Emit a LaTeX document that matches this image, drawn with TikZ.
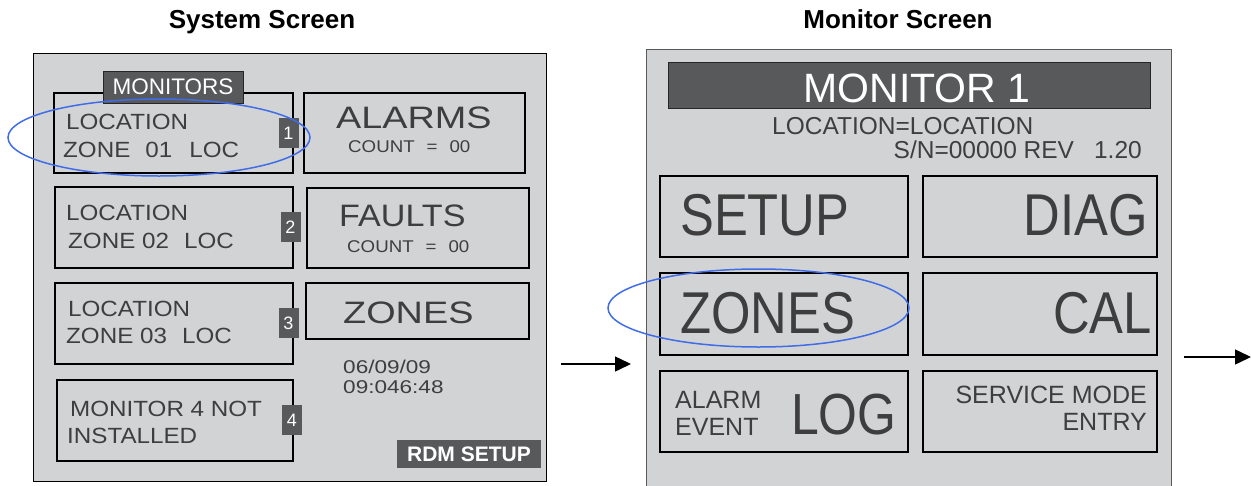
\documentclass[tikz,border=0pt]{standalone}
\usepackage{fontspec}
\setmainfont{Liberation Sans}
\newfontfamily\lcdfont[FakeStretch=1.1]{Liberation Sans}
\newfontfamily\lcdwide[FakeStretch=1.22]{Liberation Sans}
\newfontfamily\panelfont{Liberation Sans}
\newfontfamily\panelnarrow[FakeStretch=0.86]{Liberation Sans}
\usetikzlibrary{positioning,arrows.meta,shapes.geometric}
\definecolor{screenbg}{RGB}{210,211,213}
\definecolor{tabdark}{RGB}{88,89,91}
\definecolor{lcdtext}{RGB}{62,62,62}
\definecolor{ringblue}{RGB}{64,108,232}

\tikzset{
  title/.style={font=\bfseries\fontsize{26}{30}\selectfont, anchor=base, inner sep=0pt},
  screen/.style={fill=screenbg, anchor=north west, inner sep=0pt},
  box/.style={draw=black, line width=2pt, anchor=north west, inner sep=0pt},
  tab/.style={fill=tabdark, draw=black!85, line width=0.8pt, text=white, inner sep=0pt},
  badge/.style={fill=tabdark, text=white, inner sep=0pt, minimum width=20pt, minimum height=30pt,
    font=\panelfont\fontsize{18}{20}\selectfont},
  lcd/.style={text=lcdtext, inner sep=0pt, anchor=base west},
  ring/.style={draw=ringblue, line width=1.5pt, ellipse, inner sep=0pt},
  flow/.style={-{Triangle[length=16pt,width=15pt]}, line width=1.5pt}
}

\begin{document}
\begin{tikzpicture}[x=1pt,y=-1pt]
    \useasboundingbox (0,0) rectangle (1251,485);
    \node[title] (systitle) at (262,28) {System Screen};
    \node[title] (montitle) at (898,28) {Monitor Screen};

    \node[screen, draw=black, line width=1.3pt, minimum width=513pt, minimum height=428pt] (sysscr) at (33,53) {};
    \node[box, minimum width=239pt, minimum height=80pt] (mon1) at (53,92) {};
    \node[box, minimum width=238pt, minimum height=81pt] (mon2) at (54,186) {};
    \node[box, minimum width=238pt, minimum height=81pt] (mon3) at (54,282) {};
    \node[box, minimum width=236pt, minimum height=81pt] (mon4) at (56,379) {};
    \node[box, minimum width=221pt, minimum height=80pt] (alarms) at (303,92) {};
    \node[box, minimum width=222pt, minimum height=80pt] (faults) at (306,187) {};
    \node[box, minimum width=223pt, minimum height=56pt] (zones) at (305,282) {};
    \node[tab, minimum width=140pt, minimum height=32pt, font=\panelfont\fontsize{22.5}{26}\selectfont] (montab) at (173,87) {MONITORS};
    \node[badge] (badge1) at (288.5,133) {1};
    \node[badge] (badge2) at (290.5,227) {2};
    \node[badge] (badge3) at (288.5,323) {3};
    \node[badge] (badge4) at (292,420) {4};

    \node[lcd, font=\lcdfont\fontsize{22}{26}\selectfont] (loc1) at (66,129) {LOCATION};
    \node[lcd, font=\lcdfont\fontsize{22}{26}\selectfont] (zone1) at (63,157) {ZONE\hspace{15pt}01\hspace{17pt}LOC};
    \node[lcd, font=\lcdfont\fontsize{22}{26}\selectfont] (loc2) at (66,220) {LOCATION};
    \node[lcd, font=\lcdfont\fontsize{22}{26}\selectfont] (zone2) at (68,248) {ZONE 02\hspace{15pt}LOC};
    \node[lcd, font=\lcdfont\fontsize{22}{26}\selectfont] (loc3) at (68,316) {LOCATION};
    \node[lcd, font=\lcdfont\fontsize{22}{26}\selectfont] (zone3) at (66,343) {ZONE 03\hspace{15pt}LOC};
    \node[lcd, font=\lcdfont\fontsize{22}{26}\selectfont] (mon4a) at (70,416) {MONITOR 4 NOT};
    \node[lcd, font=\lcdfont\fontsize{22}{26}\selectfont] (mon4b) at (67,443) {INSTALLED};

    \node[lcd, font=\lcdwide\fontsize{31}{34}\selectfont] (alarmstxt) at (336,128) {ALARMS};
    \node[lcd, font=\lcdfont\fontsize{17}{20}\selectfont] (alarmscnt) at (348,152) {COUNT\hspace{12pt}=\hspace{12pt}00};
    \node[lcd, font=\lcdfont\fontsize{31}{34}\selectfont] (faultstxt) at (339,226) {FAULTS};
    \node[lcd, font=\lcdfont\fontsize{17}{20}\selectfont] (faultscnt) at (347,252) {COUNT\hspace{12pt}=\hspace{12pt}00};
    \node[lcd, font=\lcdwide\fontsize{31}{34}\selectfont] (zonestxt) at (343,323) {ZONES};
    \node[lcd, font=\lcdwide\fontsize{18.5}{20}\selectfont] (date) at (343,373) {06/09/09};
    \node[lcd, font=\lcdwide\fontsize{18.5}{20}\selectfont] (time) at (343,393) {09:046:48};
    \node[tab, draw=none, minimum width=144pt, minimum height=28pt, font=\bfseries\fontsize{21}{24}\selectfont] (rdm) at (469,454) {RDM SETUP};
    \node[ring, minimum width=302pt, minimum height=77pt] (ring1) at (159,137.5) {};

    \node[screen, draw=black!65, line width=1.3pt, minimum width=525pt, minimum height=450pt] (monscr) at (646,49) {};
    \node[tab, anchor=north west, minimum width=482pt, minimum height=46pt] (hdr) at (668,62) {};
    \node[text=white, anchor=base, inner sep=0pt, font=\panelfont\fontsize{41}{44}\selectfont] (hdrtxt) at (917,102) {MONITOR 1};
    \node[lcd, font=\panelfont\fontsize{24.5}{28}\selectfont] (locline) at (772,134) {LOCATION=LOCATION};
    \node[lcd, anchor=base east, font=\panelfont\fontsize{24.5}{28}\selectfont] (snline) at (1142,158) {S/N=00000 REV\hspace{20pt}1.20};

    \node[box, line width=1.8pt, minimum width=248pt, minimum height=81pt] (setup) at (659,175) {};
    \node[box, line width=1.8pt, minimum width=234pt, minimum height=81pt] (diag) at (922,175) {};
    \node[box, line width=1.8pt, minimum width=248pt, minimum height=82pt] (zonesbtn) at (659,272) {};
    \node[box, line width=1.8pt, minimum width=234pt, minimum height=82pt] (cal) at (922,272) {};
    \node[box, line width=1.8pt, minimum width=248pt, minimum height=81pt] (log) at (659,370) {};
    \node[box, line width=1.8pt, minimum width=234pt, minimum height=81pt] (service) at (922,370) {};

    \node[lcd, font=\panelnarrow\fontsize{59}{62}\selectfont] (setuptxt) at (680,235) {SETUP};
    \node[lcd, anchor=base east, font=\panelnarrow\fontsize{59}{62}\selectfont] (diagtxt) at (1148,235) {DIAG};
    \node[lcd, font=\panelnarrow\fontsize{59}{62}\selectfont] (zonesbtntxt) at (680,333) {ZONES};
    \node[lcd, anchor=base east, font=\panelnarrow\fontsize{59}{62}\selectfont] (caltxt) at (1152,333) {CAL};
    \node[lcd, font=\panelfont\fontsize{25}{28}\selectfont] (alarmlbl) at (675,408) {ALARM};
    \node[lcd, font=\panelfont\fontsize{25}{28}\selectfont] (eventlbl) at (675,435) {EVENT};
    \node[lcd, font=\panelnarrow\fontsize{58}{62}\selectfont] (logtxt) at (791,434) {LOG};
    \node[lcd, anchor=base east, font=\panelfont\fontsize{25}{28}\selectfont] (servicetxt) at (1147,403) {SERVICE MODE};
    \node[lcd, anchor=base east, font=\panelfont\fontsize{25}{28}\selectfont] (entrytxt) at (1147,430) {ENTRY};
    \node[ring, minimum width=301pt, minimum height=78pt] (ring2) at (758.5,308) {};

    \coordinate (in1) at (561,364);
    \coordinate (in2) at (631,364);
    \coordinate (out1) at (1184,357);
    \coordinate (out2) at (1251,357);
    \draw[flow] (in1) -- (in2);
    \draw[flow] (out1) -- (out2);
\end{tikzpicture}
\end{document}
